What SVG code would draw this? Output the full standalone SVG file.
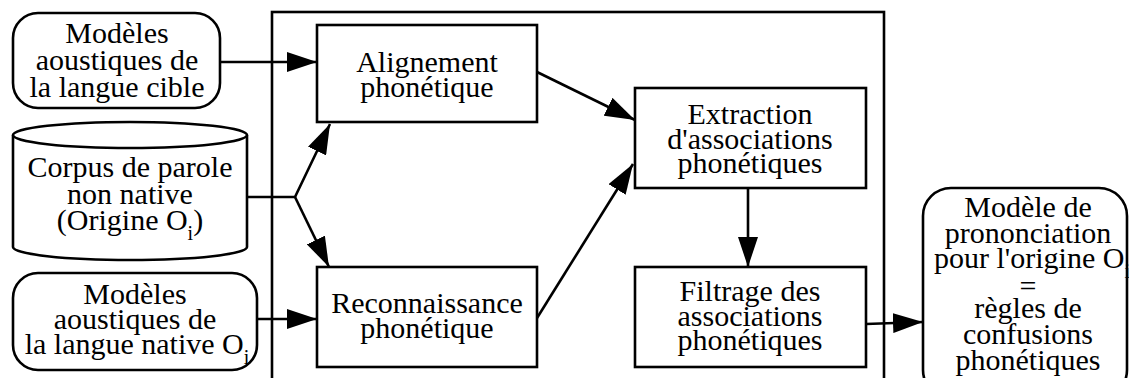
<svg xmlns="http://www.w3.org/2000/svg" width="1129" height="378" viewBox="0 0 1129 378">
<defs>
<marker id="ah" markerUnits="userSpaceOnUse" markerWidth="30" markerHeight="20" refX="30" refY="10" orient="auto">
<path d="M0,0 L30,10 L0,20 z" fill="#000"/>
</marker>
<style>
.s{fill:#fff;stroke:#000;stroke-width:2.6}
.c{fill:none;stroke:#000;stroke-width:2.6}
text{font-family:"Liberation Serif","Times New Roman",serif;font-size:30px;fill:#000;text-anchor:middle}
.sub{font-size:20px}
</style>
</defs>
<rect width="1129" height="378" fill="#fff"/>
<g id="frame"><rect class="c" x="272" y="12" width="612" height="390"/></g>
<g id="n_modeles_cible">
<rect class="s" x="13" y="13" width="207" height="95" rx="25"/>
<text x="117" y="43">Modèles</text>
<text x="117" y="70">aoustiques de</text>
<text x="117" y="97">la langue cible</text>
</g>
<g id="n_corpus">
<path class="s" d="M13,135 L13,247 A117,13 0 0 0 247,247 L247,135"/>
<ellipse class="s" cx="130" cy="135" rx="117" ry="13"/>
<text x="130" y="177">Corpus de parole</text>
<text x="130" y="204">non native</text>
<text x="130" y="230">(Origine O<tspan class="sub" dy="10">i</tspan><tspan dy="-10">)</tspan></text>
</g>
<g id="n_modeles_native">
<rect class="s" x="13" y="273" width="244" height="97" rx="25"/>
<text x="135" y="304">Modèles</text>
<text x="135" y="329">aoustiques de</text>
<text x="137" y="354">la langue native O<tspan class="sub" dy="10">i</tspan></text>
</g>
<g id="n_alignement">
<rect class="s" x="317" y="25" width="220" height="97"/>
<text x="427" y="72">Alignement</text>
<text x="427" y="97">phonétique</text>
</g>
<g id="n_reconnaissance">
<rect class="s" x="317" y="267" width="220" height="100"/>
<text x="427" y="313">Reconnaissance</text>
<text x="427" y="338">phonétique</text>
</g>
<g id="n_extraction">
<rect class="s" x="635" y="88" width="231" height="100"/>
<text x="750" y="124">Extraction</text>
<text x="750" y="149">d'associations</text>
<text x="750" y="173">phonétiques</text>
</g>
<g id="n_filtrage">
<rect class="s" x="635" y="267" width="231" height="100"/>
<text x="750" y="301">Filtrage des</text>
<text x="750" y="326">associations</text>
<text x="750" y="350">phonétiques</text>
</g>
<g id="n_modele_pron">
<rect class="s" x="923" y="188" width="204" height="210" rx="28"/>
<text x="1028" y="217">Modèle de</text>
<text x="1028" y="243">prononciation</text>
<text x="1032" y="268">pour l'origine O<tspan class="sub" dy="10">i</tspan></text>
<text x="1028" y="296">=</text>
<text x="1028" y="318">règles de</text>
<text x="1028" y="344">confusions</text>
<text x="1028" y="370">phonétiques</text>
</g>
<g id="connectors">
<path class="c" d="M220,62 L317,62" marker-end="url(#ah)"/>
<path class="c" d="M247,197 L295,197 L330,124" marker-end="url(#ah)"/>
<path class="c" d="M295,197 L329,267" marker-end="url(#ah)"/>
<path class="c" d="M257,319 L317,319" marker-end="url(#ah)"/>
<path class="c" d="M537,72 L635,120" marker-end="url(#ah)"/>
<path class="c" d="M537,318 L633,164" marker-end="url(#ah)"/>
<path class="c" d="M748,188 L748,267" marker-end="url(#ah)"/>
<path class="c" d="M866,324 L923,322" marker-end="url(#ah)"/>
</g>
</svg>
